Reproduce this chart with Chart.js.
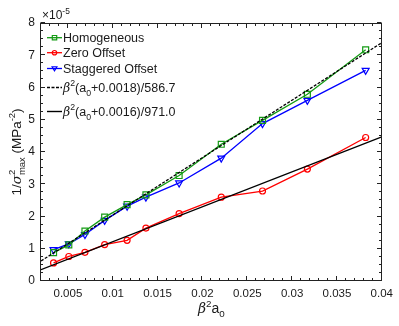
<!DOCTYPE html>
<html><head><meta charset="utf-8">
<script src="https://cdn.jsdelivr.net/npm/chart.js@4.4.0/dist/chart.umd.min.js"></script>
<style>html,body{margin:0;padding:0;background:#fff}#wrap{width:399px;height:326px;position:relative}canvas{display:block}</style>
</head><body><div id="wrap"><canvas id="c" width="399" height="326" style="width:399px;height:326px"></canvas></div>
<script>
// ---- data (y in units of 1e-5 MPa^-2) ----
const betaA0 = [0.0034, 0.0051, 0.0069, 0.0091, 0.0116, 0.0137, 0.0174, 0.0221, 0.0267, 0.0317, 0.0382];
const homogeneous = [0.88, 1.12, 1.55, 1.98, 2.37, 2.67, 3.27, 4.24, 4.98, 5.79, 7.17];
const zeroOffset = [0.56, 0.76, 0.89, 1.13, 1.26, 1.64, 2.09, 2.60, 2.79, 3.47, 4.45];
const staggeredOffset = [0.97, 1.15, 1.44, 1.88, 2.32, 2.60, 3.04, 3.81, 4.88, 5.60, 6.53];
const fitDashX = [0.002, 0.04];
const fitDashY = [0.62, 7.39];
const fitSolidX = [0.002, 0.04];
const fitSolidY = [0.35, 4.47];
const seriesNames = ['Homogeneous', 'Zero Offset', 'Staggered Offset', 'fit1', 'fit2'];
const xTicks = [0.005, 0.01, 0.015, 0.02, 0.025, 0.03, 0.035, 0.04];
const yTicks = [0, 1, 2, 3, 4, 5, 6, 7, 8];
const xRange = [0.002, 0.04];
const yRange = [0, 8];

const FONT = "'Liberation Sans', Arial, sans-serif";
const TXT = '#1a1a1a';
const GREEN = 'rgb(20,155,20)', RED = 'rgb(255,0,0)', BLUE = 'rgb(0,0,255)';

const pts = (xs, ys) => xs.map((x, i) => ({x: x, y: ys[i]}));

function richWidth(ctx, parts, base) {
  let w = 0, hold = 0;
  for (const p of parts) {
    const size = p.s ? base * 0.7 : base;
    ctx.font = (p.i ? 'italic ' : '') + size + 'px ' + (p.f || FONT);
    const tw = ctx.measureText(p.t).width;
    if (p.hold) { hold = tw; continue; }
    w += Math.max(tw, hold); hold = 0;
  }
  return w;
}
function drawRich(ctx, parts, x, y, base) {
  let cx = x, hold = 0;
  ctx.textAlign = 'left'; ctx.textBaseline = 'alphabetic';
  for (const p of parts) {
    let size = base, dy = 0;
    if (p.s === 'sup') { size = base * 0.7; dy = -base * 0.45; }
    if (p.s === 'sub') { size = base * 0.7; dy = base * 0.3; }
    ctx.font = (p.i ? 'italic ' : '') + size + 'px ' + (p.f || FONT);
    ctx.fillText(p.t, cx, y + dy);
    const tw = ctx.measureText(p.t).width;
    if (p.hold) { hold = tw; continue; }
    cx += Math.max(tw, hold); hold = 0;
  }
}

const BETA = {t: 'β', i: true, f: "'DejaVu Serif', serif"};
const legendRich = [
  [{t: seriesNames[0]}],
  [{t: seriesNames[1]}],
  [{t: seriesNames[2]}],
  [BETA, {t: '2', s: 'sup'}, {t: '(a'}, {t: '0', s: 'sub'}, {t: '+0.0018)/586.7'}],
  [BETA, {t: '2', s: 'sup'}, {t: '(a'}, {t: '0', s: 'sub'}, {t: '+0.0016)/971.0'}]
];

function drawMarker(ctx, style, x, y, r, color) {
  ctx.save(); ctx.strokeStyle = color; ctx.lineWidth = 1.2; ctx.beginPath();
  if (style === 'rect') { ctx.rect(x - r, y - r, 2 * r, 2 * r); }
  else if (style === 'circle') { ctx.arc(x, y, r, 0, Math.PI * 2); }
  else if (style === 'tri') { ctx.moveTo(x - r * 1.1, y - r * 0.8); ctx.lineTo(x + r * 1.1, y - r * 0.8); ctx.lineTo(x, y + r * 1.1); ctx.closePath(); }
  ctx.stroke(); ctx.restore();
}

const decor = {
  id: 'decor',
  afterDraw(chart) {
    const ctx = chart.ctx, a = chart.chartArea, xs = chart.scales.x, ys = chart.scales.y;
    ctx.save();
    // frame
    ctx.strokeStyle = '#222'; ctx.lineWidth = 1;
    const L = Math.round(a.left) - 0.5, R = Math.round(a.right) - 0.5, T = Math.round(a.top) + 0.5, B = Math.round(a.bottom) - 0.5;
    ctx.strokeRect(L, T, R - L, B - T);
    ctx.beginPath();
    for (let i = 2; i <= 40; i++) {
      const v = i / 1000, px = Math.round(xs.getPixelForValue(v)) - 0.5;
      const len = (i % 5 === 0) ? 4.5 : 2.5;
      ctx.moveTo(px, B); ctx.lineTo(px, B - len);
      ctx.moveTo(px, T); ctx.lineTo(px, T + len);
    }
    for (let i = 0; i <= 32; i++) {
      const v = i / 4, py = Math.round(ys.getPixelForValue(v)) - 0.5;
      const len = (i % 4 === 0) ? 4.5 : 2.5;
      ctx.moveTo(L, py); ctx.lineTo(L + len, py);
      ctx.moveTo(R, py); ctx.lineTo(R - len, py);
    }
    ctx.stroke();

    ctx.fillStyle = TXT;
    drawRich(ctx, [{t: '×10'}, {t: '-5', s: 'sup'}], a.left + 1, 19, 12);
    const xt = [BETA, {t: '2', s: 'sup'}, {t: 'a'}, {t: '0', s: 'sub'}];
    const xw = richWidth(ctx, xt, 14);
    drawRich(ctx, xt, (a.left + a.right) / 2 - xw / 2, 313, 14);
    const yt = [{t: '1/'}, {t: 'σ', f: "'DejaVu Serif', serif", i: true}, {t: '2', s: 'sup', hold: true}, {t: 'max', s: 'sub'}, {t: ' (MPa'}, {t: '-2', s: 'sup'}, {t: ')'}];
    const yw = richWidth(ctx, yt, 13.5);
    ctx.save();
    ctx.translate(21, (a.top + a.bottom) / 2);
    ctx.rotate(-Math.PI / 2);
    drawRich(ctx, yt, -yw / 2, 0, 13.5);
    ctx.restore();

    const ds = chart.data.datasets;
    const rows = [37.7, 52.7, 68.5, 87.5, 111.5];
    const styles = ['rect', 'circle', 'tri', null, null];
    for (let k = 0; k < 5; k++) {
      const d = ds[k], y = rows[k];
      ctx.save();
      ctx.strokeStyle = d.borderColor; ctx.lineWidth = d.borderWidth;
      ctx.setLineDash(d.borderDash || []);
      ctx.beginPath(); ctx.moveTo(47, y); ctx.lineTo(62, y); ctx.stroke();
      ctx.restore();
      if (styles[k]) drawMarker(ctx, styles[k], 54.5, y, 2.2, d.borderColor);
      ctx.fillStyle = TXT;
      drawRich(ctx, legendRich[k], 63, y + 4.5, 12.5);
    }
    ctx.restore();
  }
};

new Chart(document.getElementById('c'), {
  type: 'line',
  data: {
    datasets: [
      {label: seriesNames[0], data: pts(betaA0, homogeneous), borderColor: GREEN, borderWidth: 1.3,
       pointStyle: 'rect', pointRadius: 4.2, pointBorderWidth: 1.2, pointBorderColor: GREEN, pointBackgroundColor: 'rgba(0,0,0,0)', order: 3},
      {label: seriesNames[1], data: pts(betaA0, zeroOffset), borderColor: RED, borderWidth: 1.3,
       pointStyle: 'circle', pointRadius: 3, pointBorderWidth: 1.2, pointBorderColor: RED, pointBackgroundColor: 'rgba(0,0,0,0)', order: 3},
      {label: seriesNames[2], data: pts(betaA0, staggeredOffset), borderColor: BLUE, borderWidth: 1.3,
       pointStyle: 'triangle', rotation: 180, pointRadius: 4, pointBorderWidth: 1.2, pointBorderColor: BLUE, pointBackgroundColor: 'rgba(0,0,0,0)', order: 3},
      {label: seriesNames[3], data: pts(fitDashX, fitDashY), borderColor: '#000', borderWidth: 1.3, borderDash: [3, 1.5], pointRadius: 0, order: 1},
      {label: seriesNames[4], data: pts(fitSolidX, fitSolidY), borderColor: '#000', borderWidth: 1.4, pointRadius: 0, order: 1}
    ]
  },
  options: {
    responsive: false,
    animation: false,
    devicePixelRatio: 1,
    layout: {padding: {top: 23, right: 15, left: 0, bottom: 0}},
    plugins: {legend: {display: false}, tooltip: {enabled: false}},
    elements: {line: {tension: 0}},
    scales: {
      x: {
        type: 'linear', min: xRange[0], max: xRange[1],
        grid: {display: false, drawTicks: false}, border: {display: false},
        afterBuildTicks: s => { s.ticks = xTicks.map(v => ({value: v})); },
        afterFit: s => { s.height = 45; },
        ticks: {padding: 6, color: TXT, font: {family: FONT, size: 11.5}, maxRotation: 0, autoSkip: false,
                callback: v => String(Number(v.toFixed(4)))}
      },
      y: {
        type: 'linear', min: yRange[0], max: yRange[1],
        grid: {display: false, drawTicks: false}, border: {display: false},
        afterBuildTicks: s => { s.ticks = yTicks.map(v => ({value: v})); },
        afterFit: s => { s.width = 41; },
        ticks: {padding: 6, color: TXT, font: {family: FONT, size: 12}, callback: v => String(v)}
      }
    }
  },
  plugins: [decor]
});
</script>
</body></html>
